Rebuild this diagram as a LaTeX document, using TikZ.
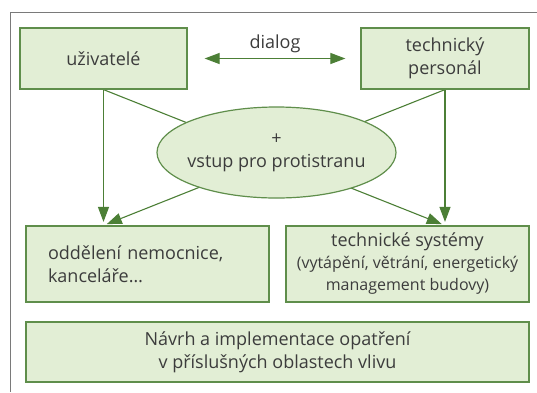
\documentclass[tikz,border=0pt]{standalone}
\usepackage{fontspec}
\setmainfont{Open Sans}
\usetikzlibrary{arrows.meta,shapes.geometric,backgrounds}
\definecolor{lgreen}{HTML}{E2EED5}
\definecolor{dgreen}{HTML}{4C7F36}
\definecolor{bgreen}{HTML}{5F8E4B}
\definecolor{txt}{HTML}{3C3C3C}
\definecolor{frame}{HTML}{7A7A7A}
\begin{document}
\begin{tikzpicture}[x=1pt,y=-1pt,
  box/.style={draw=bgreen,line width=1.2pt,fill=lgreen,text=txt,font=\fontsize{18}{23}\selectfont,inner sep=0pt,align=center},
  label/.style={text=txt,font=\fontsize{18}{23}\selectfont,inner sep=0pt,align=center},
  conn/.style={draw=dgreen,line width=1.1pt},
  tip/.style={-{Triangle[length=15pt,width=11pt]},shorten >=3.5pt}]
\useasboundingbox (0,0) rectangle (537,392);
\node[box,minimum width=167pt,minimum height=61pt] (uziv) at (103.5,58.5) {uživatelé};
\node[box,minimum width=168pt,minimum height=61pt] (tech) at (445,58.5) {technický\\personál};
\node[box,ellipse,minimum width=239pt,minimum height=91pt] (ell) at (276.5,152.5) {};
\node[label] (elltext) at (ell.center) {+\\vstup pro protistranu};
\node[box,minimum width=243pt,minimum height=76pt,text width=199pt,inner xsep=22pt,align=left] (odd) at (147.5,264) {oddělení nemocnice,\\kanceláře…};
\node[box,minimum width=243pt,minimum height=76pt] (sys) at (407.5,264) {technické systémy\\[-1pt]{\fontsize{16}{21}\selectfont (vytápění, větrání, energetický}\\[-1pt]{\fontsize{16}{21}\selectfont management budovy)}};
\node[box,minimum width=503pt,minimum height=60pt] (bot) at (277.5,352) {Návrh a implementace opatření\\v příslušných oblastech vlivu};
\begin{scope}[on background layer]
  \coordinate (fr) at (537,12);
  \coordinate (fc) at (10,12);
  \coordinate (fb) at (10,392);
  \draw[frame,line width=0.9pt] (fr) -- (fc) -- (fb);
  \draw[conn,tip] (uziv.south) -- (odd.north -| uziv.south);
  \draw[conn,tip] (tech.south) -- (sys.north -| tech.south);
  \draw[conn,tip] (uziv.south) -- (sys.north -| tech.south);
  \draw[conn,tip] (tech.south) -- (odd.north -| uziv.south);
\end{scope}
\draw[conn,{Triangle[length=15pt,width=11pt]}-{Triangle[length=15pt,width=11pt]}] ([xshift=17pt]uziv.east) -- node[above=2pt,text=txt,font=\fontsize{18}{21}\selectfont] (dl) {dialog} ([xshift=-15pt]tech.west);
\end{tikzpicture}
\end{document}
